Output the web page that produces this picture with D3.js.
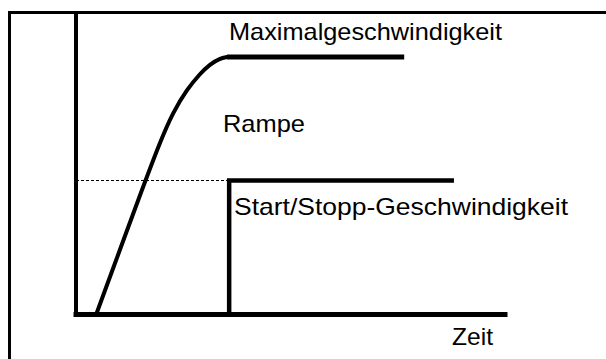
<!DOCTYPE html>
<html>
<head>
<meta charset="utf-8">
<script src="https://cdn.jsdelivr.net/npm/d3@7"></script>
<style>
  html, body { margin: 0; padding: 0; background: #fff; }
  svg { display: block; }
  text { font-family: "Liberation Sans", Arial, sans-serif; fill: #000; }
</style>
</head>
<body>
<svg id="chart" width="606" height="359"></svg>
<script>
// ---- data (time in arbitrary units 0..100, speed in % of max) ----
const rampTime  = [4.7, 15.6, 19.6, 22.6, 25.9, 28.9, 31.2, 33.6, 35.2];
const rampSpeed = [0,   49.5, 67,   78.5, 87.5, 93.5, 97.2, 99.5, 100];
const maxSpeed = 100;
const maxSpeedRange = [35.2, 76.5];
const startStopSpeed = 52;
const startStopRange = [35.7, 88.1];
const axisTimeMax = 100;
const axisSpeedMax = 116.3;
const labelTexts = ["Maximalgeschwindigkeit", "Rampe", "Start/Stopp-Geschwindigkeit", "Zeit"];

// ---- layout ----
const svg = d3.select("#chart");
const x = d3.scaleLinear().domain([0, 100]).range([76, 505]);
const y = d3.scaleLinear().domain([0, 100]).range([314.5, 57]);
const line = d3.line().x(d => x(d[0])).y(d => y(d[1]));

// outer frame
svg.append("rect").attr("x", 9.5).attr("y", 12.5).attr("width", 620).attr("height", 400)
  .attr("fill", "none").attr("stroke", "#000").attr("stroke-width", 3);

// dashed start/stop reference
svg.append("path").attr("d", line([[0, startStopSpeed], [startStopRange[0], startStopSpeed]]))
  .attr("fill", "none").attr("stroke", "#000").attr("stroke-width", 1)
  .attr("stroke-dasharray", "3,2").attr("shape-rendering", "crispEdges");

// axes
svg.append("path").attr("d", line([[0, axisSpeedMax], [0, 0]]))
  .attr("fill", "none").attr("stroke", "#000").attr("stroke-width", 4).attr("stroke-linecap", "square");
svg.append("path").attr("d", line([[0, 0], [axisTimeMax, 0]]))
  .attr("fill", "none").attr("stroke", "#000").attr("stroke-width", 5).attr("stroke-linecap", "square");

// ramp curve
svg.append("path")
  .attr("d", d3.line().x(d => x(d[0])).y(d => y(d[1])).curve(d3.curveBasis)(rampTime.map((t, i) => [t, rampSpeed[i]])))
  .attr("fill", "none").attr("stroke", "#000").attr("stroke-width", 4).attr("stroke-linecap", "round").attr("stroke-linejoin", "round");

// max speed line
svg.append("path").attr("d", line([[maxSpeedRange[0], maxSpeed], [maxSpeedRange[1], maxSpeed]]))
  .attr("fill", "none").attr("stroke", "#000").attr("stroke-width", 5).attr("stroke-linecap", "butt");

// start/stop step
svg.append("path").attr("d", line([[startStopRange[0], 0], [startStopRange[0], startStopSpeed], [startStopRange[1], startStopSpeed]]))
  .attr("fill", "none").attr("stroke", "#000").attr("stroke-width", 4.5).attr("stroke-linejoin", "miter");

// labels
const labelLayout = [
  { px: 229, py: 40, w: 273 },
  { px: 223, py: 132, w: 82 },
  { px: 234, py: 215, w: 334 },
  { px: 452, py: 345, w: 41 }
];
labelTexts.forEach((t, i) => {
  const L = labelLayout[i];
  svg.append("text").attr("x", L.px).attr("y", L.py)
    .attr("font-size", 24)
    .attr("textLength", L.w).attr("lengthAdjust", "spacingAndGlyphs")
    .text(t);
});
</script>
</body>
</html>
